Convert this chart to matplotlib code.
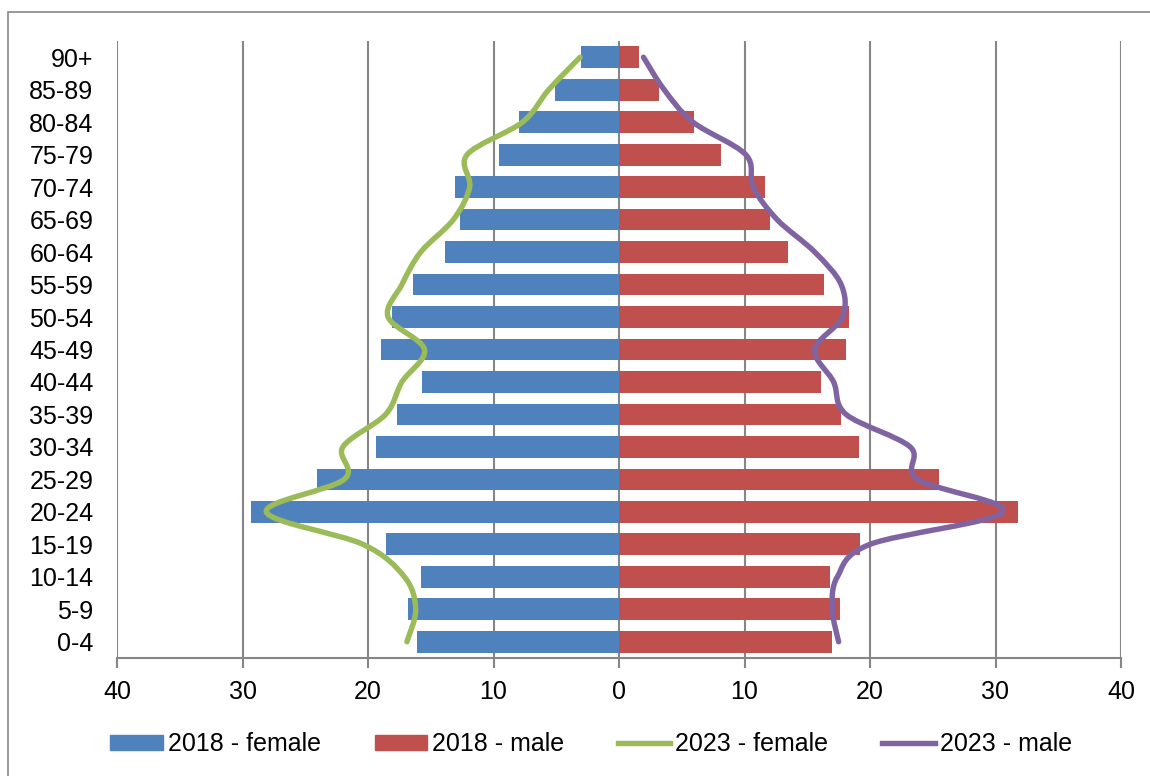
import matplotlib
matplotlib.use("Agg")
import matplotlib.pyplot as plt
import matplotlib.ticker as mticker
import numpy as np
from matplotlib.lines import Line2D
from matplotlib.patches import Patch, PathPatch, Rectangle
from matplotlib.path import Path

plt.rcParams["font.family"] = ["Liberation Sans", "DejaVu Sans"]

# age groups, bottom to top
ages = ["0-4", "5-9", "10-14", "15-19", "20-24", "25-29", "30-34", "35-39",
        "40-44", "45-49", "50-54", "55-59", "60-64", "65-69", "70-74",
        "75-79", "80-84", "85-89", "90+"]

female_2018 = [16.1, 16.8, 15.8, 18.6, 29.3, 24.1, 19.4, 17.7, 15.7, 19.0,
               18.1, 16.4, 13.9, 12.7, 13.1, 9.6, 8.0, 5.1, 3.0]
male_2018 = [17.0, 17.6, 16.8, 19.2, 31.8, 25.5, 19.1, 17.7, 16.1, 18.1,
             18.3, 16.3, 13.5, 12.0, 11.6, 8.1, 6.0, 3.2, 1.6]
female_2023 = [16.9, 16.2, 17.1, 20.4, 28.1, 21.9, 22.0, 18.6, 17.3, 15.5,
               18.4, 17.3, 15.8, 13.2, 11.9, 12.1, 7.7, 5.6, 3.1]
male_2023 = [17.5, 17.0, 17.4, 20.0, 30.6, 23.8, 23.2, 18.1, 17.1, 15.6,
             17.8, 17.7, 15.6, 12.6, 10.7, 10.1, 5.9, 3.6, 1.95]

BLUE = "#4F81BD"
RED = "#C0504D"
GREEN = "#9BBB59"
PURPLE = "#8064A2"
GRID = "#868686"


def smooth_path(xs, ys):
    """Excel-style smoothed line: Catmull-Rom converted to cubic Bezier."""
    pts = np.column_stack([xs, ys]).astype(float)
    n = len(pts)
    verts = [pts[0]]
    codes = [Path.MOVETO]
    for i in range(n - 1):
        p0 = pts[max(i - 1, 0)]
        p1 = pts[i]
        p2 = pts[i + 1]
        p3 = pts[min(i + 2, n - 1)]
        c1 = p1 + (p2 - p0) / 6.0
        c2 = p2 - (p3 - p1) / 6.0
        verts += [c1, c2, p2]
        codes += [Path.CURVE4] * 3
    return Path(verts, codes)


fig = plt.figure(figsize=(11.5, 7.76), dpi=100)
ax = fig.add_axes([117 / 1150, 1 - 658 / 776, (1121 - 117) / 1150, (658 - 41) / 776])

y = np.arange(len(ages))
ax.barh(y, -np.array(female_2018), height=0.67, color=BLUE, zorder=2)
ax.barh(y, male_2018, height=0.67, color=RED, zorder=2)

for vals, col, sign in [(female_2023, GREEN, -1), (male_2023, PURPLE, 1)]:
    path = smooth_path(sign * np.array(vals), y)
    ax.add_patch(PathPatch(path, facecolor="none", edgecolor=col, lw=3.9,
                           capstyle="round", joinstyle="round", zorder=3))

ax.set_xlim(-40, 40)
ax.set_ylim(-0.5, len(ages) - 0.5)
ax.set_xticks(np.arange(-40, 41, 10))
ax.xaxis.set_major_formatter(mticker.FuncFormatter(lambda v, p: f"{abs(v):.0f}"))
ax.set_yticks(y)
ax.set_yticklabels(ages)

ax.grid(True, axis="x", color=GRID, lw=1.5, zorder=0)
ax.set_axisbelow(True)
for side in ["top", "right", "left"]:
    ax.spines[side].set_visible(False)
ax.spines["bottom"].set_color(GRID)
ax.spines["bottom"].set_linewidth(1.5)
ax.tick_params(axis="x", direction="out", length=7, width=1.5, color=GRID,
               labelsize=18, pad=9)
ax.tick_params(axis="y", length=0, labelsize=18, pad=17)

handles = [
    Patch(color=BLUE, label="2018 - female"),
    Patch(color=RED, label="2018 - male"),
    Line2D([], [], color=GREEN, lw=3.9, label="2023 - female"),
    Line2D([], [], color=PURPLE, lw=3.9, label="2023 - male"),
]
fig.legend(handles=handles, loc="center", bbox_to_anchor=(591 / 1150, 1 - 744 / 776),
           ncol=4, frameon=False, fontsize=18, handlelength=2.1, handleheight=0.56,
           handletextpad=0.2, columnspacing=2.15)

# chart-area border (left and top edges visible)
fig.patches.append(Rectangle((8 / 1150, -0.1), 1.2, 1 - 12 / 776 + 0.1,
                             transform=fig.transFigure, fill=False,
                             edgecolor=GRID, lw=1.2))

fig.savefig("out.png", dpi=100)
